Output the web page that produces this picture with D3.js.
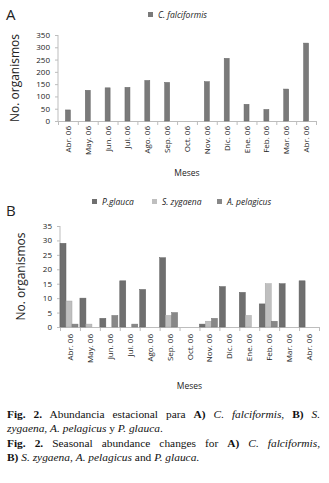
<!DOCTYPE html>
<html>
<head>
<meta charset="utf-8">
<script src="https://d3js.org/d3.v7.min.js"></script>
<style>
  body { margin: 0; background: #fff; }
  text { font-family: "Open Sans", "DejaVu Sans", sans-serif; }
</style>
</head>
<body>
<script>
// months shared by both panels
const months = ["Abr. 06", "May. 06", "Jun. 06", "Jul. 06", "Ago. 06", "Sep. 06", "Oct. 06",
                "Nov. 06", "Dic. 06", "Ene. 06", "Feb. 06", "Mar. 06", "Abr. 06"];

// panel A
const falciformis = [45, 125, 135, 137, 165, 157, 0, 160, 255, 68, 47, 130, 317];
const ticksA = [0, 50, 100, 150, 200, 250, 300, 350];

// panel B
const speciesB = ["P.glauca", "S. zygaena", "A. pelagicus"];
const glauca = [29, 10, 3, 16, 13, 24, 0, 1, 14, 12, 8, 15, 16];
const zygaena = [9, 1, 0, 0, 0, 4, 0, 2, 0, 4, 15, 0, 0];
const pelagicus = [1, 0, 4, 1, 0, 5, 0, 3, 0, 0, 2, 0, 0];
const ticksB = [0, 5, 10, 15, 20, 25, 30, 35];

const colB = ["#6f6f6f", "#bfbfbf", "#888888"];
const axisCol = "#bdbdbd";

const W = 329, H = 483;
const svg = d3.select("body").append("svg").attr("width", W).attr("height", H);

function drawAxes(g, x, y, ticks, labelTop, mesesY, ylabX) {
    // y axis
    g.append("line").attr("x1", x.range()[0]).attr("x2", x.range()[0])
        .attr("y1", y.range()[0]).attr("y2", y.range()[1]).attr("stroke", axisCol);
    g.selectAll(".yt").data(ticks).join("line")
        .attr("x1", x.range()[0] - 3).attr("x2", x.range()[0])
        .attr("y1", d => y(d) + 0.5).attr("y2", d => y(d) + 0.5).attr("stroke", axisCol);
    g.selectAll(".yl").data(ticks).join("text")
        .attr("x", x.range()[0] - 8).attr("y", d => y(d) + 3)
        .attr("text-anchor", "end").attr("font-size", 8).attr("fill", "#222")
        .text(d => d);
    // x axis
    g.append("line").attr("x1", x.range()[0]).attr("x2", x.range()[1])
        .attr("y1", y(0) + 0.5).attr("y2", y(0) + 0.5).attr("stroke", axisCol);
    const edges = d3.range(months.length + 1).map(i => i < months.length ? x(i) : x.range()[1]);
    g.selectAll(".xt").data(edges).join("line")
        .attr("x1", d => d + 0.5).attr("x2", d => d + 0.5)
        .attr("y1", y(0)).attr("y2", y(0) + 4).attr("stroke", axisCol);
    g.selectAll(".xl").data(months).join("text")
        .attr("transform", (d, i) => `translate(${x(i) + x.bandwidth() / 2 + 3},${labelTop}) rotate(-90)`)
        .attr("text-anchor", "end").attr("font-size", 8).attr("fill", "#222")
        .text(d => d);
    g.append("text").attr("x", (x.range()[0] + x.range()[1]) / 2).attr("y", mesesY)
        .attr("text-anchor", "middle").attr("font-size", 8.5).attr("fill", "#222").text("Meses");
    g.append("text")
        .attr("transform", `translate(${ylabX},${(y.range()[0] + y.range()[1]) / 2}) rotate(-90)`)
        .attr("text-anchor", "middle").attr("font-size", 12).attr("fill", "#222")
        .text("No. organismos");
}

// ---------- panel A
const gA = svg.append("g");
const xA = d3.scaleBand().domain(d3.range(months.length)).range([58, 316]);
const yA = d3.scaleLinear().domain([0, 350]).range([121, 35]);
drawAxes(gA, xA, yA, ticksA, 126, 176, 19);
gA.selectAll(".bar").data(falciformis).join("rect")
    .attr("x", (d, i) => xA(i) + xA.bandwidth() / 2 - 2.5)
    .attr("y", d => yA(d)).attr("width", 5).attr("height", d => yA(0) - yA(d))
    .attr("fill", "#7a7a7a").attr("stroke", "#666").attr("stroke-width", 0.5);
gA.append("text").attr("x", 6).attr("y", 20).attr("font-size", 15).attr("fill", "#222").text("A");
gA.append("rect").attr("x", 148).attr("y", 12).attr("width", 5).attr("height", 5).attr("fill", "#7a7a7a");
gA.append("text").attr("x", 158).attr("y", 18).attr("font-size", 8.5).attr("font-style", "italic")
    .attr("fill", "#222").text("C. falciformis");

// ---------- panel B
const gB = svg.append("g");
const xB = d3.scaleBand().domain(d3.range(months.length)).range([60, 319]);
const xB1 = d3.scaleBand().domain(speciesB).range([0, 18]);
const yB = d3.scaleLinear().domain([0, 35]).range([327, 226]);
drawAxes(gB, xB, yB, ticksB, 334, 389, 25);
const seriesB = [glauca, zygaena, pelagicus];
seriesB.forEach((vals, s) => {
    gB.selectAll(".b" + s).data(vals).join("rect")
        .attr("x", (d, i) => xB(i) + xB1(speciesB[s]))
        .attr("y", d => yB(d)).attr("width", xB1.bandwidth()).attr("height", d => yB(0) - yB(d))
        .attr("fill", colB[s]).attr("stroke", d3.color(colB[s]).darker(0.4)).attr("stroke-width", 0.5);
});
gB.append("text").attr("x", 6).attr("y", 216).attr("font-size", 15).attr("fill", "#222").text("B");
const legX = [92, 152, 217];
speciesB.forEach((s, i) => {
    gB.append("rect").attr("x", legX[i]).attr("y", 199).attr("width", 5).attr("height", 5).attr("fill", colB[i]);
    gB.append("text").attr("x", legX[i] + 10).attr("y", 205).attr("font-size", 8.5)
        .attr("font-style", "italic").attr("fill", "#222").text(s);
});

// ---------- caption (lines 1 and 3 are justified in the original)
const cap = svg.append("g").attr("font-size", 11.4).attr("fill", "#111");
const lines = [
    [["Fig. 2.", "b"], [" Abundancia estacional para ", ""], ["A)", "b"], [" ", ""], ["C. falciformis", "i"], [", ", ""], ["B)", "b"], [" S.", "i"]],
    [["zygaena", "i"], [", ", ""], ["A. pelagicus", "i"], [" y ", ""], ["P. glauca", "i"], [".", ""]],
    [["Fig. 2.", "b"], [" Seasonal abundance changes for ", ""], ["A)", "b"], [" ", ""], ["C. falciformis", "i"], [",", ""]],
    [["B)", "b"], [" ", ""], ["S. zygaena", "i"], [", ", ""], ["A. pelagicus", "i"], [" and ", ""], ["P. glauca", "i"], [".", ""]]
];
const lineY = [418, 432, 447, 461];
const justify = [true, false, true, false];
lines.forEach((parts, li) => {
    const t = cap.append("text").attr("x", 7).attr("y", lineY[li]).attr("xml:space", "preserve")
        .style("font-family", "'Liberation Serif', serif");
    parts.forEach(p => {
        t.append("tspan").text(p[0])
            .attr("font-weight", p[1] === "b" ? "bold" : null)
            .attr("font-style", p[1] === "i" ? "italic" : null);
    });
    if (justify[li]) {
        const len = t.node().getComputedTextLength();
        const spaces = parts.map(p => p[0]).join("").split(" ").length - 1;
        t.style("word-spacing", ((313 - len) / spaces) + "px");
    }
});
</script>
</body>
</html>
